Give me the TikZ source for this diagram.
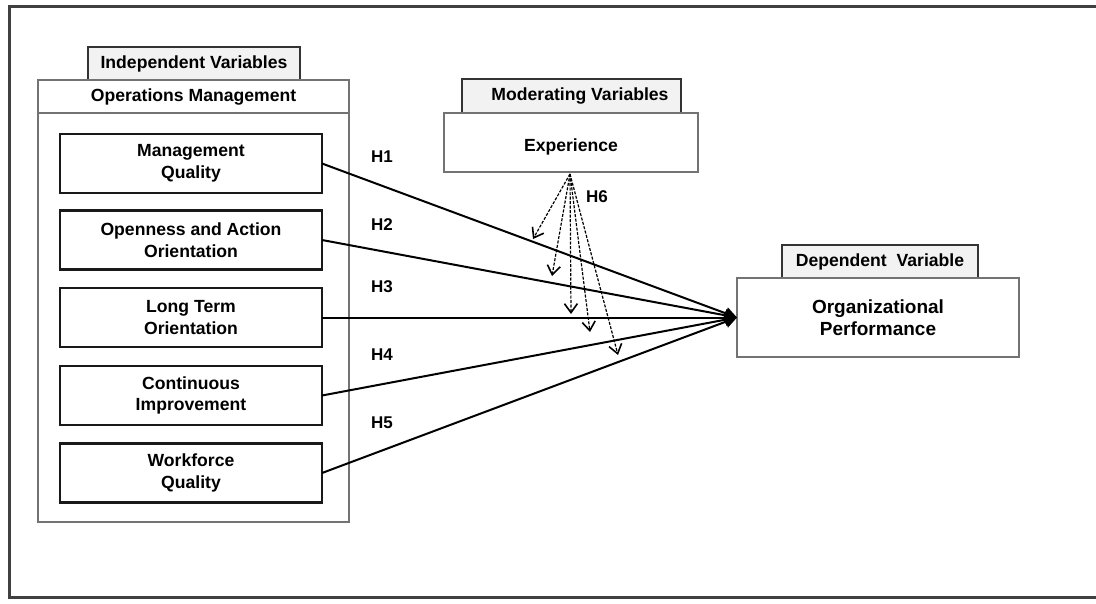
\documentclass[tikz,border=0pt]{standalone}
\usepackage{fontspec}
\setmainfont{Liberation Sans}
\usetikzlibrary{arrows.meta}
\begin{document}
\begin{tikzpicture}[x=1pt,y=-1pt,
  every node/.style={font=\bfseries\fontsize{17.6}{21.7}\selectfont, align=center, inner sep=0pt, outer sep=0pt},
  tab/.style={draw=black!80, fill=black!5, line width=1.6pt},
  group/.style={draw=black!55, line width=2.2pt, fill=white},
  item/.style={draw=black!90, line width=2.2pt, fill=white, minimum width=262pt, minimum height=59pt},
  link/.style={line width=2pt, -{Triangle[length=12pt,width=12pt]}},
  mod/.style={dash pattern=on 3pt off 1.5pt, line width=1.2pt, -{Straight Barb[length=9pt,width=13pt,line width=1.6pt]}},
  hyp/.style={font=\bfseries\fontsize{17}{19}\selectfont},
]
\useasboundingbox (0,0) rectangle (1096,603);
\draw[line width=3.5pt, draw=black!75] (1110,6.5) -- (9.5,6.5) -- (9.5,597.5) -- (1110,597.5);

% independent variables
\node[tab, minimum width=212pt, minimum height=33pt] (indtab) at (194,63.5) {Independent Variables};
\node[group, minimum width=311pt, minimum height=33pt] (opshead) at (193.5,96.5) {Operations Management};
\node[group, minimum width=311pt, minimum height=409pt] (opsbody) at (193.5,317.5) {};
\node[item] (mq) at (191,163.5) {Management\\Quality};
\node[item] (oa) at (191,240) {Openness and Action\\Orientation};
\node[item] (lt) at (191,317.5) {Long Term\\Orientation};
\node[item] (ci) at (191,395.5) {Continuous\\Improvement};
\node[item] (wq) at (191,473) {Workforce\\Quality};

% moderating
\node[tab, minimum width=219pt, minimum height=34pt] (modtab) at (571.5,96) {\hspace*{17pt}Moderating Variables};
\node[group, minimum width=254pt, minimum height=59pt] (exp) at (571,142.5) {};
\node (expl) at (571,147) {Experience};

% dependent
\node[tab, minimum width=196pt, minimum height=33pt] (deptab) at (880,261.5) {Dependent\ \ Variable};
\node[group, font=\bfseries\fontsize{19}{21.7}\selectfont, minimum width=282pt, minimum height=79pt] (op) at (878,317.5) {Organizational\\Performance};

% hypotheses labels
\node[hyp] (h1) at (382,157) {H1};
\node[hyp] (h2) at (382,225) {H2};
\node[hyp] (h3) at (382,287) {H3};
\node[hyp] (h4) at (382,355) {H4};
\node[hyp] (h5) at (382,423) {H5};
\node[hyp] (h6) at (597,197) {H6};

% links
\draw[link] (mq.east) -- (op.west);
\draw[link] (oa.east) -- (op.west);
\draw[link] (lt.east) -- (op.west);
\draw[link] (ci.east) -- (op.west);
\draw[link] (wq.east) -- (op.west);

% moderating arrows
\coordinate (m1) at (533,239);
\coordinate (m2) at (552,276);
\coordinate (m3) at (571,314);
\coordinate (m4) at (590,332);
\coordinate (m5) at (618,355);
\coordinate (ms) at (570,174);
\draw[mod] (ms) -- (m1);
\draw[mod] (ms) -- (m2);
\draw[mod] (ms) -- (m3);
\draw[mod] (ms) -- (m4);
\draw[mod] (ms) -- (m5);
\end{tikzpicture}
\end{document}
